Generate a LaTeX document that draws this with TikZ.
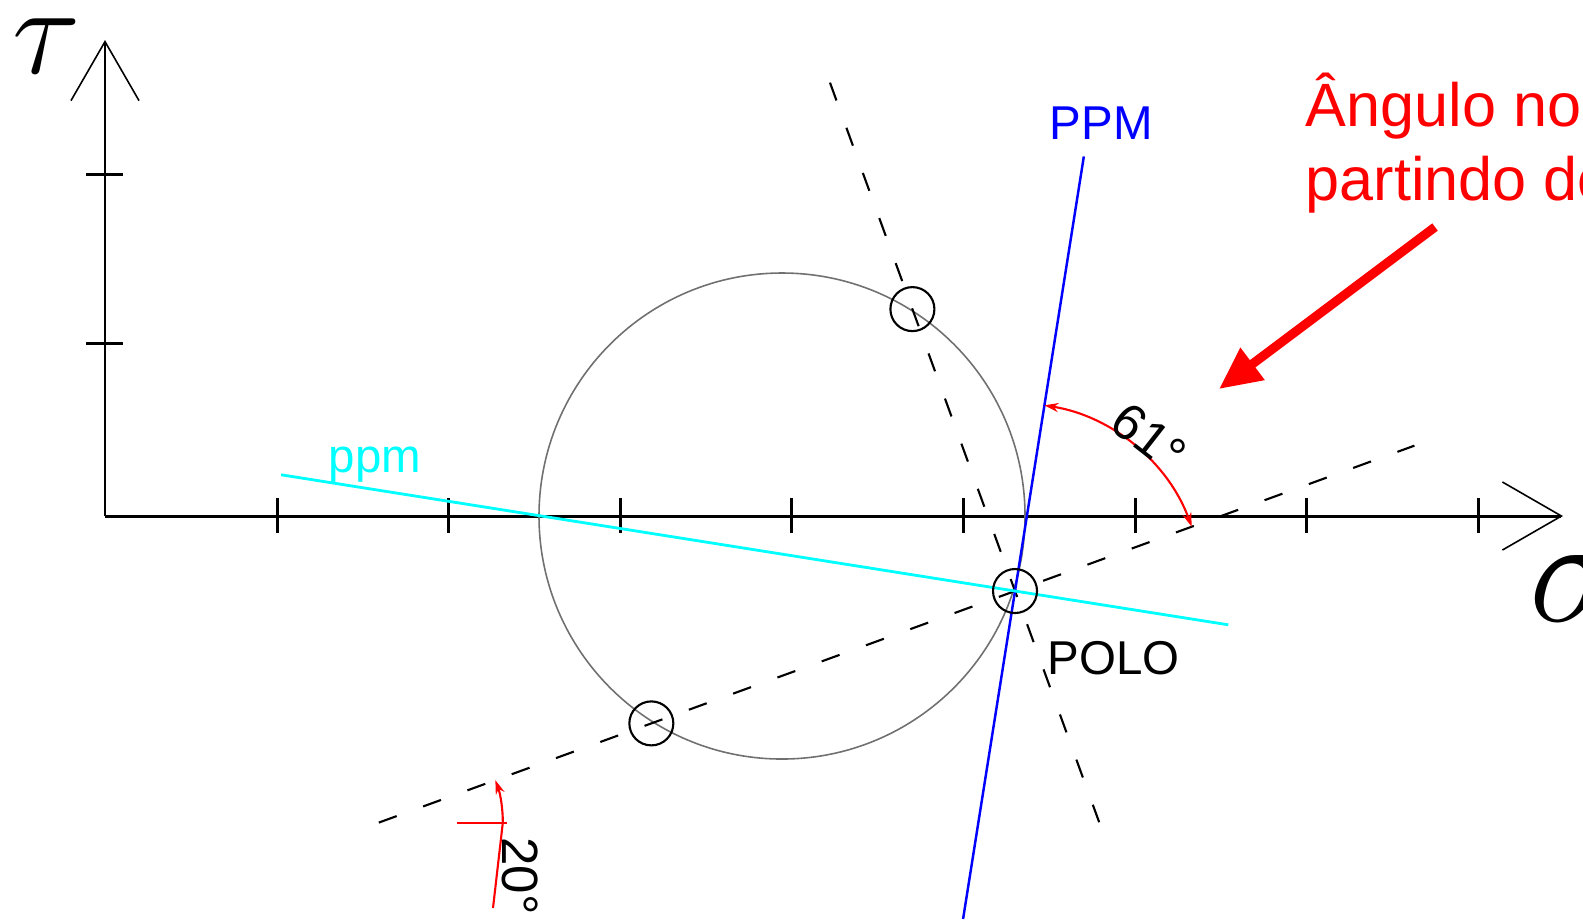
\documentclass[tikz,border=0pt]{standalone}
\usepackage{fontspec}
\setmainfont{Liberation Sans}
\usetikzlibrary{arrows.meta}
\definecolor{ppmblue}{HTML}{0000FF}
\definecolor{ppmcyan}{HTML}{00FFFF}
\definecolor{dimred}{HTML}{FF0000}
\definecolor{circgray}{HTML}{707070}

\begin{document}
\begin{tikzpicture}[x=0.01cm,y=0.01cm,
 axis/.style={line width=0.85pt,-{Straight Barb[length=0.59cm,width=0.68cm,line width=0.45pt]}},
 tickmark/.style={line width=0.85pt},
 dashline/.style={line width=0.6pt,dash pattern=on 0.19cm off 0.29cm},
 ptcirc/.style={line width=0.6pt},
 lbl/.style={inner sep=0pt,anchor=base west,font=\fontsize{13.5}{16}\selectfont},
 dim/.style={dimred,line width=0.6pt},
 dimtxt/.style={inner sep=0pt,font=\fontsize{14.5}{17}\selectfont},
 greek/.style={inner sep=0pt,font=\fontsize{24.88}{28}\selectfont}
]
\useasboundingbox (0,0) rectangle (1583,-920);
% axes
\coordinate (O) at (105,-516);
\coordinate (tautip) at (105,-40);
\coordinate (sigtip) at (1563,-516);
\draw[axis] (O) -- (tautip);
\draw[axis] (O) -- (sigtip);
\foreach \y in {174,343} \draw[tickmark] (86,-\y) -- (123,-\y);
\foreach \k in {0,...,7} \draw[tickmark] ({277+171.6*\k},-498) -- ({277+171.6*\k},-533);
\node[greek,scale=1.45] (tau) at (47,-46) {$\tau$};
\node[greek,scale=1.75,anchor=west] (sig) at (1528,-589) {$\sigma$};
% Mohr circle and pole
\coordinate (C) at (782,-516);
\coordinate (P) at (1015,-591);
\coordinate (A) at ([shift={(110:300)}]P);
\coordinate (B) at ([shift={(200:387)}]P);
\draw[circgray,line width=0.45pt] (C) circle[radius=243];
% principal directions through the pole
\coordinate (d1a) at ([shift={(110:541)}]P);
\coordinate (d1b) at ([shift={(-70:246)}]P);
\coordinate (d2a) at ([shift={(200:677)}]P);
\coordinate (d2b) at ([shift={(20:425)}]P);
\draw[dashline] (d1a) -- (d1b);
\draw[dashline,dash pattern=on 0.19cm off 0.281cm] (d2a) -- (d2b);
% planes
\coordinate (PPMa) at ([shift={(81:440)}]P);
\coordinate (PPMb) at ([shift={(261:332)}]P);
\coordinate (ppma) at ([shift={(171:743)}]P);
\coordinate (ppmb) at ([shift={(-9:216)}]P);
\draw[ppmblue,line width=0.7pt] (PPMa) -- (PPMb);
\draw[ppmcyan,line width=0.8pt] (ppma) -- (ppmb);
\foreach \p in {A,B,P} \draw[ptcirc] (\p) circle[radius=22];
\node[lbl,text=ppmblue] (PPM) at (1049,-139) {PPM};
\node[lbl,text=ppmcyan] (ppm) at (328,-472) {ppm};
\node[lbl] (polo) at (1047,-674) {POLO};
% angle 61
\draw[dim,{Stealth[length=4pt,width=2.6pt]}-{Stealth[length=4pt,width=2.6pt]}] ([shift={(81:188)}]P) arc[start angle=81,end angle=20,radius=188];
\node[dimtxt,rotate=-38] (a61) at (1149,-437) {61°};
% angle 20
\draw[dim] ([shift={(78,0)}]d2a) -- ([shift={(128,0)}]d2a);
\draw[dim,{Stealth[length=4pt,width=2.6pt]}-] ([shift={(20:124)}]d2a) arc[start angle=20,end angle=0,radius=124] -- (493,-908);
\node[dimtxt,rotate=-90] (a20) at (520,-876) {20°};
% note
\node[inner sep=0pt,anchor=base west,align=left,text=dimred,font=\fontsize{17.4}{21}\selectfont] (note) at (1305,-200) {Ângulo no\\partindo do};
\coordinate (callout) at (1435,-227);
\coordinate (target) at (1219,-389);
\draw[dimred,line width=2.6pt,-{Triangle[length=0.42cm,width=0.38cm]}] (callout) -- (target);
\end{tikzpicture}
\end{document}
